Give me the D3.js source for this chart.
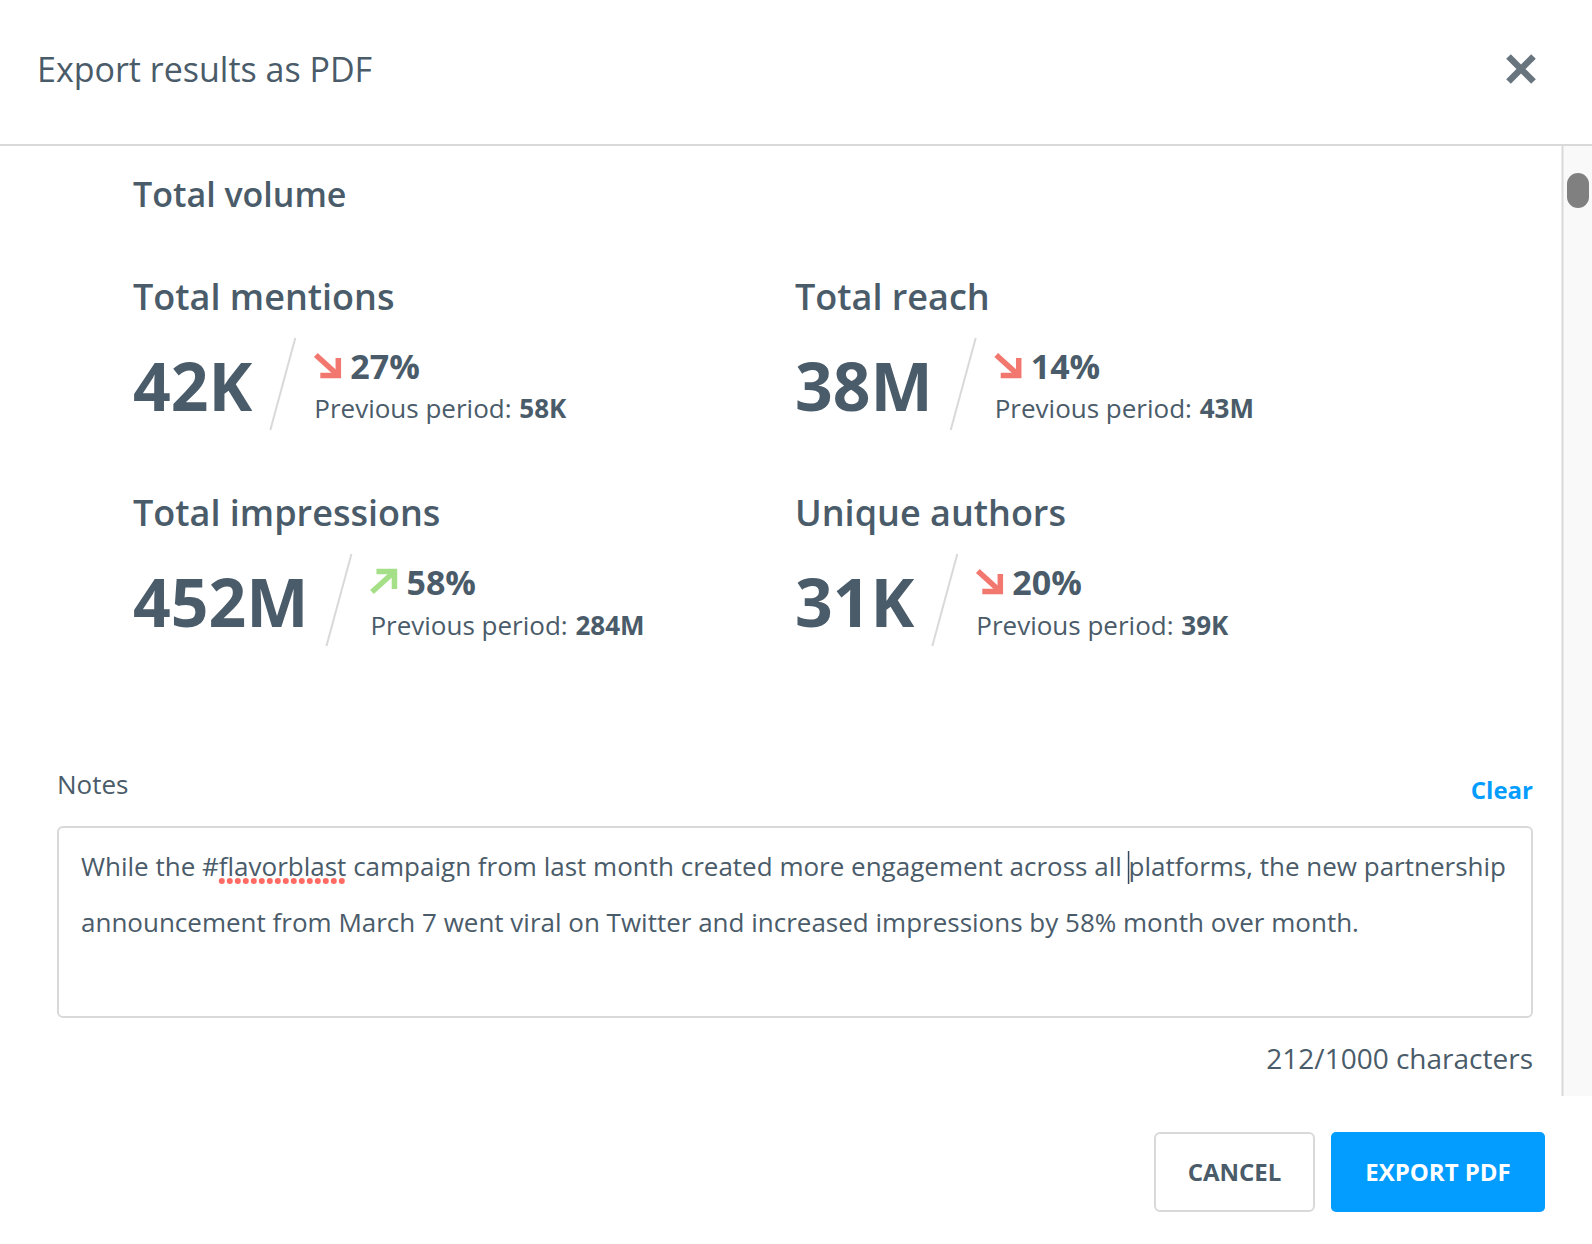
<!DOCTYPE html>
<html>
<head>
<meta charset="utf-8">
<title>Export results as PDF</title>
<script src="https://cdn.jsdelivr.net/npm/d3@7"></script>
<style>
html, body { margin: 0; padding: 0; background: #fff; }
svg { display: block; }
text { font-family: "Open Sans", sans-serif; fill: #4a5b69; }
</style>
</head>
<body>
<svg id="chart" width="1592" height="1244"></svg>
<script>
// Values
var metricNames = ["Total mentions", "Total reach", "Total impressions", "Unique authors"];
var metricValues = ["42K", "38M", "452M", "31K"];
var changePercents = [27, 14, 58, 20];
var changeDirections = ["down", "down", "up", "down"];
var previousValues = ["58K", "43M", "284M", "39K"];
var noteLines = [
    "While the #flavorblast campaign from last month created more engagement across all platforms, the new partnership",
    "announcement from March 7 went viral on Twitter and increased impressions by 58% month over month."
];

var svg = d3.select("#chart");
var ink = "#4a5b69", rule = "#d9d9d9", blue = "#039cff";

var label = function(parent, x, y, str, size, weight, anchor) {
    return parent.append("text")
        .attr("x", x).attr("y", y)
        .attr("font-size", size)
        .attr("font-weight", weight || 400)
        .attr("text-anchor", anchor || "start")
        .text(str);
};

// Header
label(svg, 37, 82, "Export results as PDF", 34).attr("fill", ink);
svg.append("path")
    .attr("d", "M1508.5 56.5L1533.5 81.5M1533.5 56.5L1508.5 81.5")
    .attr("stroke", "#68747e").attr("stroke-width", 6.5).attr("fill", "none");
svg.append("line").attr("x1", 0).attr("x2", 1592).attr("y1", 145).attr("y2", 145)
    .attr("stroke", rule).attr("stroke-width", 2);

// Scroll track
svg.append("rect").attr("x", 1563).attr("y", 146).attr("width", 29).attr("height", 950).attr("fill", "#f9f9f9");
svg.append("line").attr("x1", 1562.5).attr("x2", 1562.5).attr("y1", 146).attr("y2", 1096)
    .attr("stroke", rule).attr("stroke-width", 2);
svg.append("rect").attr("x", 1567).attr("y", 173).attr("width", 22).attr("height", 35).attr("rx", 11)
    .attr("fill", "#808080");

label(svg, 133, 207, "Total volume", 34, 600);

// Metric blocks, two by two
var colX = d3.scaleOrdinal().domain([0, 1]).range([133, 795]);
var rowY = d3.scaleOrdinal().domain([0, 1]).range([310, 526]);

metricNames.forEach(function(name, i) {
    var row = Math.floor(i / 2);
    var g = svg.append("g").attr("transform", "translate(" + colX(i % 2) + "," + rowY(row) + ")");
    label(g, 0, 0, name, 36, 600);
    var big = label(g, 0, 100.5, metricValues[i], 66, 700);
    var w = big.node().getComputedTextLength();

    // divider slash
    g.append("line")
        .attr("x1", w + 43).attr("y1", 28)
        .attr("x2", w + 18).attr("y2", 120)
        .attr("stroke", rule).attr("stroke-width", 2);

    var dx = w + 62.5;
    var up = changeDirections[i] === "up";
    var arrow = g.append("g")
        .attr("transform", "translate(" + dx + ",43)" + (up ? " translate(0,25) scale(1,-1)" : ""))
        .attr("fill", "none")
        .attr("stroke", up ? "#a5e088" : "#f2776f")
        .attr("stroke-width", 5.5);
    arrow.append("path").attr("d", "M1 2L23 22");
    arrow.append("path").attr("d", "M5.5 22.5H23.5V5");

    label(g, dx + 35.5, 68.5, changePercents[i] + "%", 34, 700);
    var prev = label(g, dx - 0.5, 108 + row, "Previous period: ", 26);
    prev.append("tspan").attr("font-weight", 700).attr("dx", 1).text(previousValues[i]);
});

// Notes
label(svg, 57, 794, "Notes", 26);
label(svg, 1533, 799, "Clear", 24, 700, "end").style("fill", blue);
svg.append("rect").attr("x", 58).attr("y", 827).attr("width", 1474).attr("height", 190).attr("rx", 5)
    .attr("fill", "#fff").attr("stroke", rule).attr("stroke-width", 2);

var lineY = d3.scaleBand().domain(d3.range(noteLines.length)).range([876, 988]);
var noteNodes = noteLines.map(function(line, i) {
    return label(svg, 81, lineY(i), line, 26);
});

// Spell check dots below the hashtag word
var first = noteNodes[0].node();
var wordStart = noteLines[0].indexOf("flavorblast");
var x0 = first.getStartPositionOfChar(wordStart).x;
var x1 = first.getEndPositionOfChar(wordStart + "flavorblast".length - 1).x;
svg.append("g").selectAll("circle")
    .data(d3.range(x0 + 3, x1 - 1, 8))
    .join("circle")
    .attr("cx", function(d) { return d; })
    .attr("cy", 881)
    .attr("r", 3)
    .attr("fill", "#ff6b63");

// Text cursor in front of "platforms"
var caretX = first.getStartPositionOfChar(noteLines[0].indexOf("platforms")).x;
svg.append("line").attr("x1", caretX).attr("x2", caretX).attr("y1", 851).attr("y2", 884)
    .attr("stroke", "#34495e").attr("stroke-width", 1.5);

label(svg, 1533, 1069, "212/1000 characters", 28, 400, "end");

// Footer buttons
svg.append("rect").attr("x", 1155).attr("y", 1133).attr("width", 159).attr("height", 78).attr("rx", 5)
    .attr("fill", "#fff").attr("stroke", rule).attr("stroke-width", 2);
label(svg, 1234.5, 1181, "CANCEL", 24, 700, "middle");
svg.append("rect").attr("x", 1331).attr("y", 1132).attr("width", 214).attr("height", 80).attr("rx", 5)
    .attr("fill", blue);
label(svg, 1438, 1181, "EXPORT PDF", 24, 700, "middle").style("fill", "#fff");
</script>
</body>
</html>
